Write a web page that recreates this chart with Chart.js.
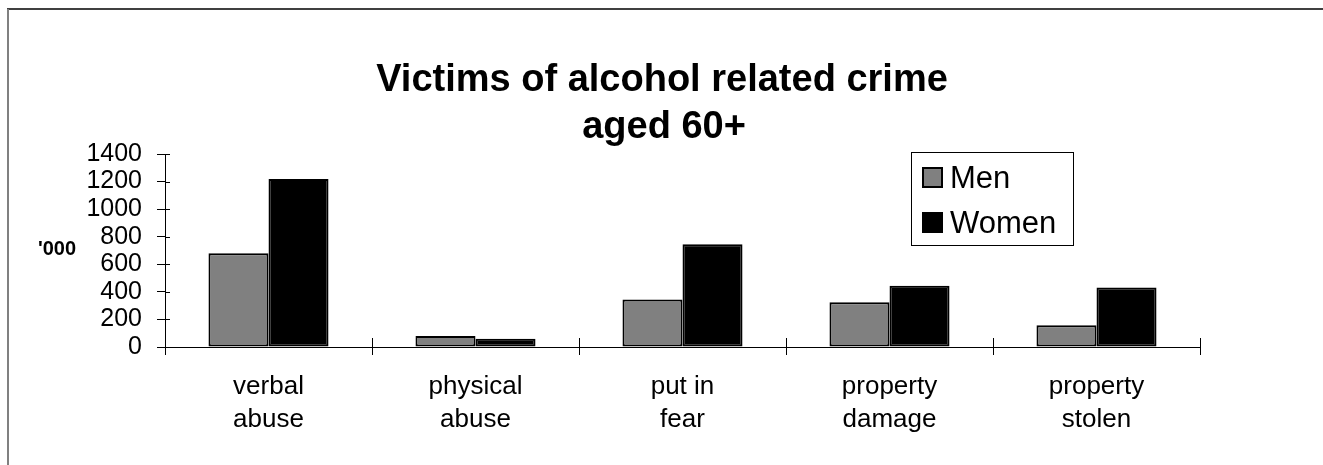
<!DOCTYPE html>
<html>
<head>
<meta charset="utf-8">
<script src="https://cdn.jsdelivr.net/npm/chart.js@4/dist/chart.umd.min.js"></script>
<style>
  html, body { margin: 0; padding: 0; background: #fff; }
  #c { display: block; }
</style>
</head>
<body>
<canvas id="c" width="1323" height="465"></canvas>
<script>
// ---- data ----
const categories = [['verbal', 'abuse'], ['physical', 'abuse'], ['put in', 'fear'], ['property', 'damage'], ['property', 'stolen']];
const menValues = [680, 80, 345, 325, 158];
const womenValues = [1218, 60, 745, 445, 432];
const seriesNames = ['Men', 'Women'];
const titleLines = ['Victims of alcohol related crime', 'aged 60+'];
const yUnitLabel = "'000";
const yMin = 0, yMax = 1400, yStep = 200;

const FONT = "'Liberation Sans', Arial, Helvetica, sans-serif";

const decorPlugin = {
  id: 'decor',
  beforeDraw(chart) {
    const ctx = chart.ctx;
    ctx.save();
    ctx.fillStyle = '#fff';
    ctx.fillRect(0, 0, chart.width, chart.height);
    // frame
    ctx.strokeStyle = '#000';
    ctx.lineWidth = 1.5;
    ctx.beginPath();
    ctx.moveTo(7, 9);
    ctx.lineTo(chart.width, 9);
    ctx.stroke();
    ctx.strokeStyle = '#808080';
    ctx.lineWidth = 2;
    ctx.beginPath();
    ctx.moveTo(8, 9);
    ctx.lineTo(8, chart.height);
    ctx.stroke();
    ctx.restore();
  },
  afterDraw(chart) {
    const ctx = chart.ctx;
    const xs = chart.scales.x, ys = chart.scales.y;
    ctx.save();
    // inner tick parts
    ctx.strokeStyle = '#000';
    ctx.lineWidth = 1;
    ctx.beginPath();
    ys.ticks.forEach(t => {
      const py = Math.round(ys.getPixelForValue(t.value)) + 0.5;
      ctx.moveTo(ys.right, py);
      ctx.lineTo(ys.right + 5, py);
    });
    const n = categories.length;
    for (let i = 0; i <= n; i++) {
      const px = Math.round(xs.left + i * (xs.width / n)) + 0.5;
      ctx.moveTo(px, xs.top - 9);
      ctx.lineTo(px, xs.top);
    }
    ctx.stroke();

    // title
    ctx.fillStyle = '#000';
    ctx.textAlign = 'center';
    ctx.textBaseline = 'alphabetic';
    ctx.font = 'bold 38px ' + FONT;
    ctx.fillText(titleLines[0], 662, 91);
    ctx.fillText(titleLines[1], 664, 137.5);

    // y unit label
    ctx.font = 'bold 20px ' + FONT;
    ctx.fillText(yUnitLabel, 57, 255);

    // legend
    const lx = 911, ly = 152, lw = 162, lh = 93;
    ctx.strokeStyle = '#000';
    ctx.lineWidth = 1;
    ctx.strokeRect(lx + 0.5, ly + 0.5, lw, lh);
    ctx.textAlign = 'left';
    ctx.font = '31px ' + FONT;
    const rowsY = [167, 212];
    chart.data.datasets.forEach((ds, i) => {
      const sy = rowsY[i];
      ctx.fillStyle = ds.backgroundColor;
      ctx.fillRect(922, sy, 21, 21);
      ctx.strokeStyle = '#000';
      ctx.lineWidth = 2;
      ctx.strokeRect(923, sy + 1, 19, 19);
      ctx.fillStyle = '#000';
      ctx.fillText(ds.label, 950, sy + 21);
    });
    ctx.restore();
  }
};

Chart.defaults.color = '#000';
Chart.defaults.font.family = FONT;

new Chart(document.getElementById('c'), {
  type: 'bar',
  data: {
    labels: categories,
    datasets: [
      { label: seriesNames[0], data: menValues, backgroundColor: '#808080', borderColor: '#000', borderWidth: 2, borderSkipped: false },
      { label: seriesNames[1], data: womenValues, backgroundColor: '#000000', borderColor: '#000', borderWidth: 2, borderSkipped: false }
    ]
  },
  options: {
    responsive: false,
    animation: false,
    devicePixelRatio: 1,
    layout: { padding: { top: 154, left: 0, right: 123, bottom: 0 } },
    plugins: {
      legend: { display: false },
      title: { display: false },
      tooltip: { enabled: false }
    },
    datasets: { bar: { categoryPercentage: 0.58, barPercentage: 1.0 } },
    scales: {
      x: {
        afterFit(s) { s.height = 118; },
        grid: { display: true, drawOnChartArea: false, offset: true, tickLength: 8, color: '#000', lineWidth: 1 },
        border: { display: true, color: '#000', width: 1 },
        ticks: { font: { size: 26, lineHeight: 1.24 }, padding: 16, maxRotation: 0, autoSkip: false, color: '#000' }
      },
      y: {
        min: yMin, max: yMax,
        afterFit(s) { s.width = 165; },
        grid: { display: true, drawOnChartArea: false, tickLength: 8, color: '#000', lineWidth: 1 },
        border: { display: true, color: '#000', width: 1 },
        ticks: { stepSize: yStep, autoSkip: false, font: { size: 25, lineHeight: 1 }, padding: 15, color: '#000',
                 callback: v => String(v) }
      }
    }
  },
  plugins: [decorPlugin]
});
</script>
</body>
</html>
